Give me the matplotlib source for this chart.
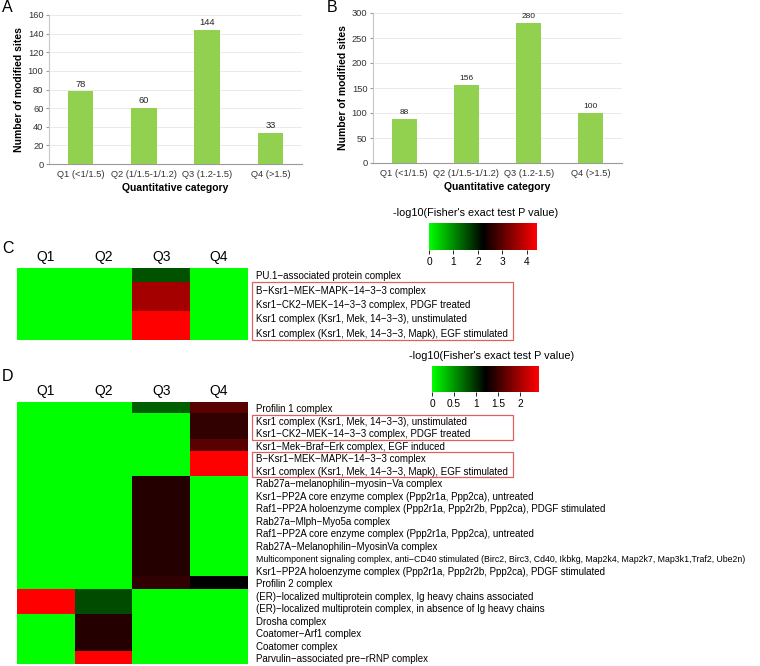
import numpy as np
import matplotlib
matplotlib.use('Agg')
from matplotlib import pyplot as plt
from matplotlib.colors import LinearSegmentedColormap
from matplotlib.patches import Rectangle
import matplotlib.transforms as mtransforms

plt.rcParams['font.family'] = ['Liberation Sans', 'DejaVu Sans']

# bar charts (A, B)
categories = ['Q1 (<1/1.5)', 'Q2 (1/1.5-1/1.2)', 'Q3 (1.2-1.5)', 'Q4 (>1.5)']
sites_a = [78, 60, 144, 33]
sites_b = [88, 156, 280, 100]

# heatmaps (C, D)
quarters = ['Q1', 'Q2', 'Q3', 'Q4']

c_terms = ['PU.1−associated protein complex',
           'B−Ksr1−MEK−MAPK−14−3−3 complex',
           'Ksr1−CK2−MEK−14−3−3 complex, PDGF treated',
           'Ksr1 complex (Ksr1, Mek, 14−3−3), unstimulated',
           'Ksr1 complex (Ksr1, Mek, 14−3−3, Mapk), EGF stimulated']
c_q1 = [0, 0, 0, 0, 0]
c_q2 = [0, 0, 0, 0, 0]
c_q3 = [1.52, 3.65, 3.65, 4.43, 4.43]
c_q4 = [0, 0, 0, 0, 0]
c_max = 4.43
c_ticks = [0, 1, 2, 3, 4]

d_terms = ['Profilin 1 complex',
           'Ksr1 complex (Ksr1, Mek, 14−3−3), unstimulated',
           'Ksr1−CK2−MEK−14−3−3 complex, PDGF treated',
           'Ksr1−Mek−Braf−Erk complex, EGF induced',
           'B−Ksr1−MEK−MAPK−14−3−3 complex',
           'Ksr1 complex (Ksr1, Mek, 14−3−3, Mapk), EGF stimulated',
           'Rab27a−melanophilin−myosin−Va complex',
           'Ksr1−PP2A core enzyme complex (Ppp2r1a, Ppp2ca), untreated',
           'Raf1−PP2A holoenzyme complex (Ppp2r1a, Ppp2r2b, Ppp2ca), PDGF stimulated',
           'Rab27a−Mlph−Myo5a complex',
           'Raf1−PP2A core enzyme complex (Ppp2r1a, Ppp2ca), untreated',
           'Rab27A−Melanophilin−MyosinVa complex',
           'Multicomponent signaling complex, anti−CD40 stimulated (Birc2, Birc3, Cd40, Ikbkg, Map2k4, Map2k7, Map3k1,Traf2, Ube2n)',
           'Ksr1−PP2A holoenzyme complex (Ppp2r1a, Ppp2r2b, Ppp2ca), PDGF stimulated',
           'Profilin 2 complex',
           '(ER)−localized multiprotein complex, Ig heavy chains associated',
           '(ER)−localized multiprotein complex, in absence of Ig heavy chains',
           'Drosha complex',
           'Coatomer−Arf1 complex',
           'Coatomer complex',
           'Parvulin−associated pre−rRNP complex']
d_q1 = [0, 0, 0, 0, 0, 0, 0, 0, 0, 0, 0, 0, 0, 0, 0, 2.43, 2.43, 0, 0, 0, 0]
d_q2 = [0, 0, 0, 0, 0, 0, 0, 0, 0, 0, 0, 0, 0, 0, 0, 0.86, 0.86, 1.39, 1.39, 1.39, 2.43]
d_q3 = [0.76, 0, 0, 0, 0, 0, 1.39, 1.39, 1.39, 1.39, 1.39, 1.39, 1.39, 1.39, 1.45, 0, 0, 0, 0, 0, 0]
d_q4 = [1.64, 1.45, 1.45, 1.64, 2.43, 2.43, 0, 0, 0, 0, 0, 0, 0, 0, 1.21, 0, 0, 0, 0, 0, 0]
d_max = 2.43
d_ticks = [0, 0.5, 1, 1.5, 2]

W, H = 760, 666
fig = plt.figure(figsize=(W / 100, H / 100), dpi=100)


def px_axes(x0, y0, x1, y1):
    return fig.add_axes([x0 / W, 1 - y1 / H, (x1 - x0) / W, (y1 - y0) / H])


def bar_panel(ax, values, ymax, step, lab_size):
    x = np.arange(len(categories))
    bars = ax.bar(x, values, width=0.4, color='#92D050', zorder=3)
    ax.bar_label(bars, padding=2, fontsize=lab_size, color='#222222')
    ax.set_xlim(-0.5, 3.5)
    ax.set_ylim(0, ymax)
    ax.set_yticks(np.arange(0, ymax + 1, step))
    ax.set_xticks(x)
    ax.set_xticklabels(categories)
    ax.grid(axis='y', color='#E6E6E6', linewidth=0.6, zorder=0)
    for s in ['top', 'right']:
        ax.spines[s].set_visible(False)
    ax.spines['left'].set_color('#C8C8C8')
    ax.spines['bottom'].set_color('#9A9A9A')
    ax.tick_params(axis='y', labelsize=6.7, length=2, color='#9A9A9A', labelcolor='#333333', pad=2)
    ax.tick_params(axis='x', labelsize=6.7, length=0, labelcolor='#333333', pad=4)
    ax.set_xlabel('Quantitative category', fontsize=7.5, fontweight='bold', labelpad=3)
    ax.set_ylabel('Number of modified sites', fontsize=7.5, fontweight='bold', labelpad=3)


ax_a = px_axes(49, 15, 302, 164)
bar_panel(ax_a, sites_a, 160, 20, 6.7)
ax_b = px_axes(373, 13, 622, 163)
bar_panel(ax_b, sites_b, 300, 50, 6)

cmap = LinearSegmentedColormap.from_list('gkr', ['#00FF00', '#000000', '#FF0000'])


def heat_panel(box, columns, terms, vmax):
    ax = px_axes(*box)
    mat = np.column_stack(columns)
    im = ax.imshow(mat, cmap=cmap, vmin=0, vmax=vmax, aspect='auto', interpolation='nearest')
    ax.set_xticks(range(len(quarters)))
    ax.set_xticklabels(quarters, fontsize=10)
    ax.xaxis.tick_top()
    ax.yaxis.tick_right()
    ax.set_yticks(range(len(terms)))
    ax.set_yticklabels(terms, fontsize=7)
    ax.tick_params(axis='x', length=0, pad=3)
    ax.tick_params(axis='y', length=0, pad=5.5)
    for s in ax.spines.values():
        s.set_visible(False)
    return ax, im


def color_key(im, box, ticks, title_x, title_y):
    cax = px_axes(*box)
    cb = fig.colorbar(im, cax=cax, orientation='horizontal', ticks=ticks)
    cb.outline.set_visible(False)
    cb.set_ticklabels([f'{t:g}' for t in ticks])
    cax.tick_params(labelsize=7.3, length=3, width=0.6, pad=2)
    fig.text(title_x / W, 1 - title_y / H, "-log10(Fisher's exact test P value)",
             fontsize=7.8, ha='center', va='center')


def red_box(ax, r0, r1):
    tr = mtransforms.blended_transform_factory(ax.transAxes, ax.transData)
    x0 = (252 - 17) / 231
    x1 = (513 - 17) / 231
    ax.add_patch(Rectangle((x0, r0 - 0.5), x1 - x0, r1 - r0 + 1, transform=tr,
                           fill=False, edgecolor='#E06060', linewidth=0.9, clip_on=False))


ax_c, im_c = heat_panel((17, 268, 248, 340), [c_q1, c_q2, c_q3, c_q4], c_terms, c_max)
red_box(ax_c, 1, 4)
color_key(im_c, (429, 223, 537, 250), c_ticks, 476, 213)

ax_d, im_d = heat_panel((17, 402, 248, 664.5), [d_q1, d_q2, d_q3, d_q4], d_terms, d_max)
ax_d.get_yticklabels()[12].set_fontsize(6.3)
red_box(ax_d, 1, 2)
red_box(ax_d, 4, 5)
color_key(im_d, (432, 366, 539, 392), d_ticks, 492, 356)

for lab, x, y in [('A', 2, 8), ('B', 327, 8), ('C', 2, 249), ('D', 2, 377)]:
    fig.text(x / W, 1 - y / H, lab, fontsize=11.5, ha='left', va='center')

fig.savefig('out.png', dpi=100)
